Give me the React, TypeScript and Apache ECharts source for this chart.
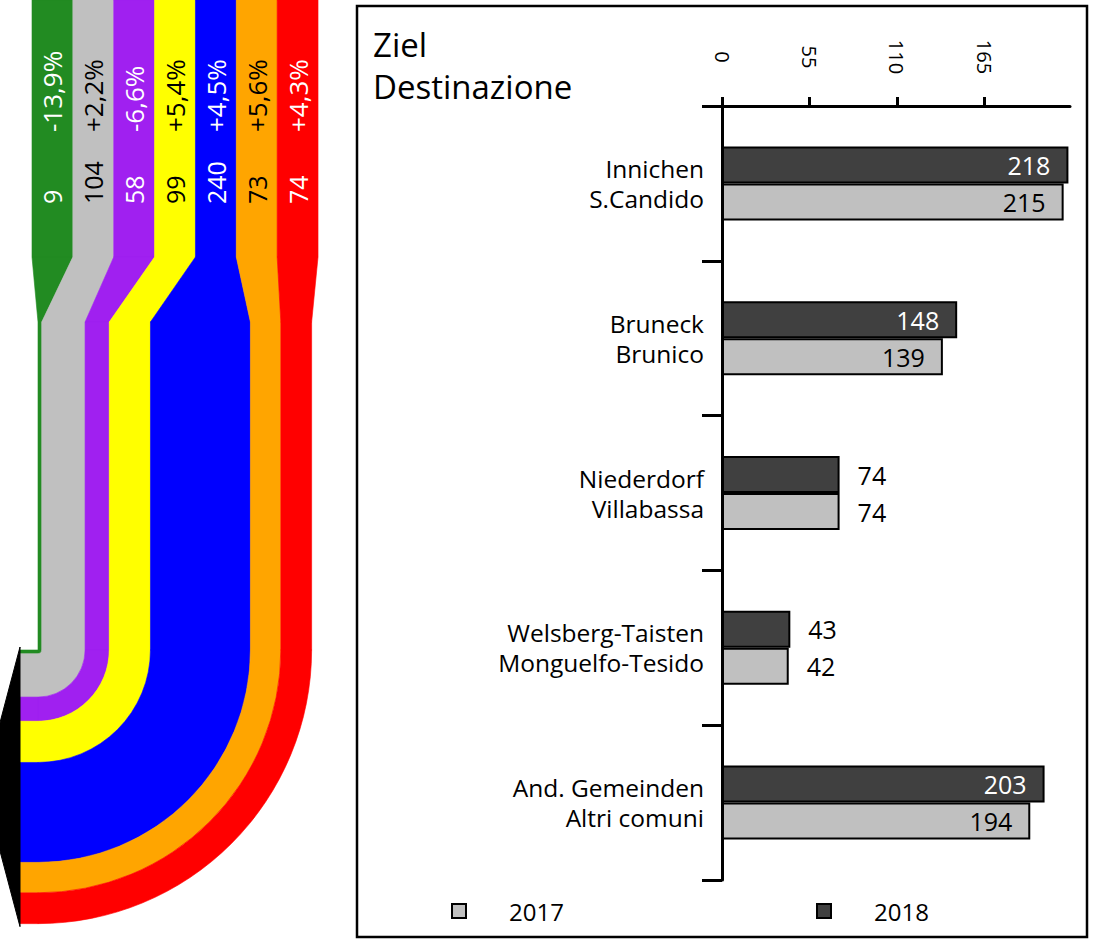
import React, { useEffect, useRef } from "react";
import * as echarts from "echarts";

const FONT = "Open Sans";

// Bar chart data
const destDe = ["Innichen", "Bruneck", "Niederdorf", "Welsberg-Taisten", "And. Gemeinden"];
const destIt = ["S.Candido", "Brunico", "Villabassa", "Monguelfo-Tesido", "Altri comuni"];
const values2017 = [215, 139, 74, 42, 194];
const values2018 = [218, 148, 74, 43, 203];
const xTickValues = [0, 55, 110, 165];
const seriesNames = ["2017", "2018"];

// Flow diagram data
const flowValues = [9, 104, 58, 99, 240, 73, 74];
const flowChanges = ["-13,9%", "+2,2%", "-6,6%", "+5,4%", "+4,5%", "+5,6%", "+4,3%"];
const flowColors = ["#228B22", "#C0C0C0", "#A020F0", "#FFFF00", "#0000FF", "#FFA500", "#FF0000"];
const flowTextColors = ["#FFFFFF", "#000000", "#FFFFFF", "#000000", "#FFFFFF", "#000000", "#FFFFFF"];

function buildFlow() {
  const els: any[] = [];
  const topY1 = 257;
  const taperY1 = 322;
  const cx = 38;
  const cy = 650;
  const leftX = 20;
  const colLeft = 32;
  const colW = 40.86;
  const k = 0.4165;
  let cum = 0;
  flowValues.forEach((v, i) => {
    const r0 = cum * k;
    const r1 = (cum + v) * k;
    cum += v;
    const tl = colLeft + i * colW;
    const tr = tl + colW;
    const bl = cx + r0;
    const br = cx + r1;
    const c = flowColors[i];
    const style = { fill: c, stroke: c, lineWidth: 0.6 };
    els.push({ type: "rect", shape: { x: tl, y: 0, width: colW, height: topY1 }, style });
    els.push({ type: "polygon", shape: { points: [[tl, topY1], [tr, topY1], [br, taperY1], [bl, taperY1]] }, style });
    els.push({ type: "rect", shape: { x: bl, y: taperY1, width: r1 - r0, height: cy - taperY1 }, style });
    els.push({ type: "sector", shape: { cx, cy, r0, r: r1, startAngle: 0, endAngle: Math.PI / 2, clockwise: true }, style });
    els.push({ type: "rect", shape: { x: leftX, y: cy + r0, width: cx - leftX, height: r1 - r0 }, style });
    const mid = tl + colW / 2;
    els.push({
      type: "text", x: mid, y: 204, rotation: Math.PI / 2, z: 10,
      style: { text: String(v), fill: flowTextColors[i], fontSize: 25, fontFamily: FONT, align: "left", verticalAlign: "middle" },
    });
    els.push({
      type: "text", x: mid, y: 132, rotation: Math.PI / 2, z: 10,
      style: { text: flowChanges[i], fill: flowTextColors[i], fontSize: 26, fontFamily: FONT, align: "left", verticalAlign: "middle" },
    });
  });
  const total = cum * k;
  els.push({
    type: "polygon",
    shape: { points: [[leftX, cy - 3], [leftX, cy + total + 3], [-17, cy + total / 2]] },
    style: { fill: "#000", stroke: "#000", lineWidth: 1 },
  });
  // frame of the bar chart panel
  els.push({ type: "rect", shape: { x: 357, y: 6, width: 730, height: 931 }, style: { fill: "none", stroke: "#000", lineWidth: 2.5 } });
  return els;
}

export default function App() {
  const ref = useRef<HTMLDivElement>(null);
  useEffect(() => {
    const chart = echarts.init(ref.current!, null, { renderer: "svg" });
    const mkData = (vals: number[], insideColor: string) =>
      vals.map((v) => ({
        value: v,
        label: v > 100 ? { position: "insideRight", color: insideColor } : { position: "right", color: "#000" },
      }));
    const legendBase = {
      padding: 0,
      top: 899,
      icon: "rect",
      itemWidth: 14,
      itemHeight: 14,
      itemStyle: { borderColor: "#000", borderWidth: 2 },
      textStyle: { fontSize: 24, color: "#000", fontFamily: FONT, padding: [0, 0, 0, 38] },
    };
    const option: any = {
      animation: false,
      textStyle: { fontFamily: FONT },
      title: {
        text: "Ziel\nDestinazione",
        left: 368,
        top: 18,
        textStyle: { fontSize: 33, fontWeight: "normal", color: "#000", lineHeight: 42, fontFamily: FONT },
      },
      legend: [
        { ...legendBase, data: [seriesNames[0]], left: 451 },
        { ...legendBase, data: [seriesNames[1]], left: 816 },
      ],
      grid: { left: 722, top: 106, right: 26, bottom: 62 },
      xAxis: {
        type: "value",
        position: "top",
        min: 0,
        max: 219,
        splitLine: { show: false },
        axisLine: { show: true, lineStyle: { color: "#000", width: 3 } },
        axisTick: { show: true, length: 9, lineStyle: { color: "#000", width: 3 }, customValues: xTickValues },
        axisLabel: { rotate: 90, align: "center", margin: 49, fontSize: 20, color: "#000", fontFamily: FONT, customValues: xTickValues },
      },
      yAxis: {
        type: "category",
        inverse: true,
        data: destDe.map((d, i) => d + "\n" + destIt[i]),
        axisLine: { show: true, lineStyle: { color: "#000", width: 3 } },
        axisTick: { show: true, length: 20, lineStyle: { color: "#000", width: 3 } },
        axisLabel: { fontSize: 24.5, lineHeight: 30, color: "#000", margin: 18, align: "right", fontFamily: FONT },
      },
      series: [
        {
          name: seriesNames[1],
          type: "bar",
          data: mkData(values2018, "#FFF"),
          barWidth: 37,
          barGap: "0%",
          itemStyle: { color: "#404040", borderColor: "#000", borderWidth: 2 },
          label: { show: true, fontSize: 25, distance: 18, fontFamily: FONT },
        },
        {
          name: seriesNames[0],
          type: "bar",
          data: mkData(values2017, "#000"),
          barWidth: 37,
          barGap: "0%",
          itemStyle: { color: "#C0C0C0", borderColor: "#000", borderWidth: 2 },
          label: { show: true, fontSize: 25, distance: 18, fontFamily: FONT },
        },
      ],
      graphic: { elements: buildFlow() },
    };
    chart.setOption(option);
    return () => chart.dispose();
  }, []);
  return <div ref={ref} style={{ position: "absolute", left: 0, top: 0, width: 1096, height: 942 }} />;
}
